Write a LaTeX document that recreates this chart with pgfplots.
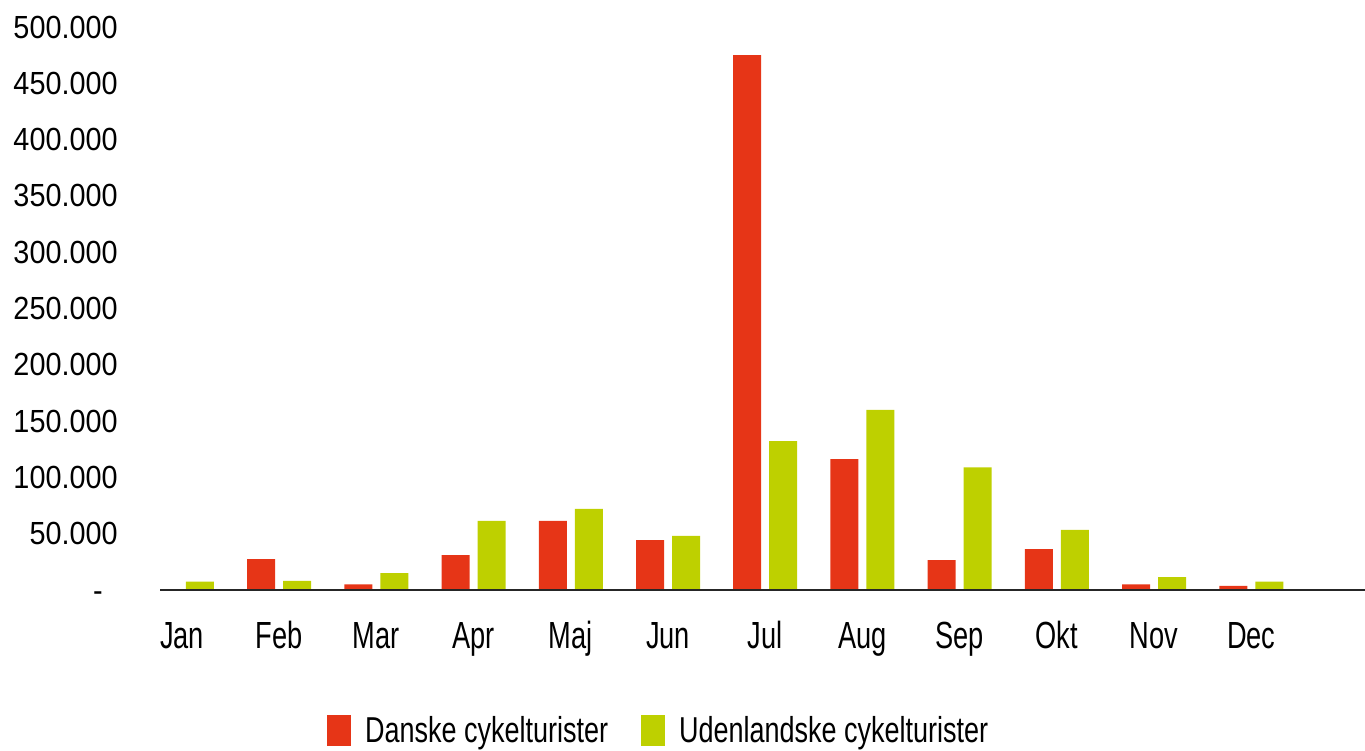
\documentclass[border=0pt]{standalone}
\usepackage{fontspec}
\setmainfont{Liberation Sans}
\newfontfamily\yfont{Liberation Sans}[FakeStretch=0.9]
\newfontfamily\xfont{Liberation Sans}[FakeStretch=0.72]
\newfontfamily\lfont{Liberation Sans}[FakeStretch=0.75]
\usepackage{pgfplots}
\pgfplotsset{compat=1.18}
\definecolor{dkred}{HTML}{E63517}
\definecolor{ugreen}{HTML}{BED000}
\begin{document}
\begin{tikzpicture}
\useasboundingbox (0,0) rectangle (682.5pt,375pt);
\begin{axis}[
  at={(80pt,80pt)}, anchor=south west,
  scale only axis, width=602.5pt, height=281.5pt,
  ybar=4pt, bar width=14pt,
  xmin=-0.226, xmax=12.17, ymin=0, ymax=500000,
  xtick={0,...,11},
  xticklabels={Jan,Feb,Mar,Apr,Maj,Jun,Jul,Aug,Sep,Okt,Nov,Dec},
  ytick={0,50000,...,500000},
  yticklabels={{\vphantom{0}-\rule{7.5pt}{0pt}},50.000,100.000,150.000,200.000,250.000,300.000,350.000,400.000,450.000,500.000},
  major tick length=0pt,
  axis line style={draw=none},
  xticklabel style={font=\xfont\fontsize{18.9}{20}\selectfont, anchor=base, inner sep=0pt, yshift=-29pt},
  yticklabel style={font=\yfont\fontsize{16}{18}\selectfont, anchor=east, inner sep=0pt, xshift=-21pt},
  scaled y ticks=false,
  legend style={at={(axis description cs:0.1386,-0.2504)}, anchor=west, draw=none, inner sep=0pt, outer sep=0pt,
    font=\lfont\fontsize{18}{20}\selectfont, legend columns=-1,
    /tikz/every even column/.append style={column sep=0pt}},
  legend image code/.code={\fill[#1] (0pt,-7.75pt) rectangle (12pt,7.75pt);},
  after end axis/.code={\draw[line width=1.1pt, black!85] (rel axis cs:0,0) -- (rel axis cs:1,0);},
]
\addplot[fill=dkred, draw=none] coordinates {
(0,0) (1,27500) (2,5000) (3,31000) (4,61300) (5,44400) (6,475000) (7,116300) (8,26600) (9,36300) (10,5000) (11,3600)};
\addplot[fill=ugreen, draw=none] coordinates {
(0,7500) (1,8000) (2,15000) (3,61300) (4,72000) (5,48000) (6,132300) (7,160000) (8,109000) (9,53300) (10,11500) (11,7500)};
\legend{{\hspace{5pt}\makebox[136pt][l]{Danske cykelturister}}, {\hspace{5pt}Udenlandske cykelturister}}
\end{axis}
\end{tikzpicture}
\end{document}
